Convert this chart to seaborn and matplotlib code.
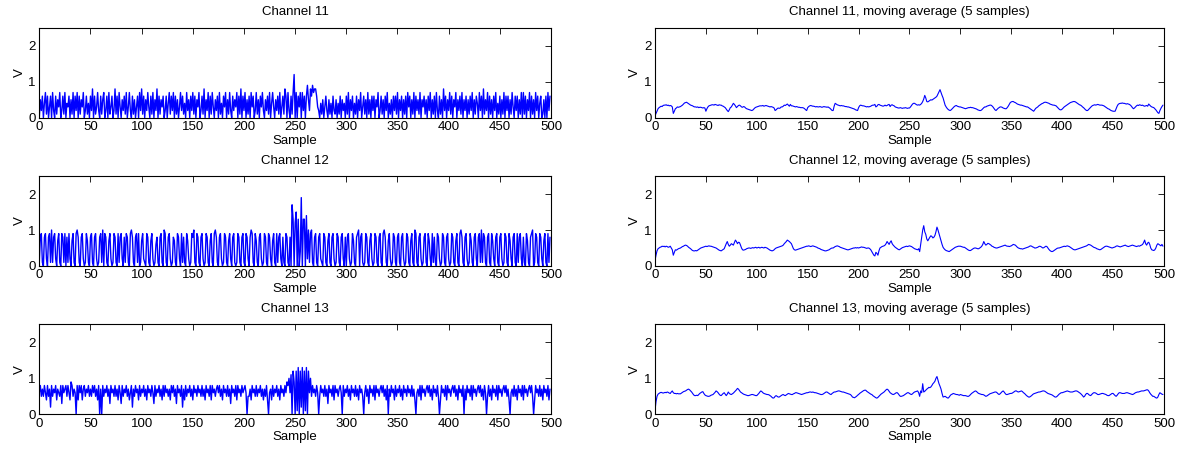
import numpy as np
import pandas as pd
import matplotlib
matplotlib.use("Agg")
import matplotlib.pyplot as plt
import seaborn as sns

sns.set_style("white")
plt.rcParams['font.family'] = ['Liberation Sans', 'DejaVu Sans']
plt.rcParams['text.color'] = 'black'
plt.rcParams['axes.labelcolor'] = 'black'

# raw samples, one character per sample, tenths of a volt (a=1.0, b=1.1, ... j=1.9)
ch11_raw = ("05260 47160 36072 06153 70261 70436 05170 62706 15370 26140"
            "62806 13720 61570 26071 36028 16073 05261 70372 06150 36072"
            "81605 27306 17052 80615 36026 04716 27061 50372 61407 25062"
            "71605 37026 18052 70617 30526 07140 63705 17206 25370 61806"
            "27051 60736 02715 06372 05261 70473 05261 70361 86072 0617c"
            "07063 70726 06952 86978 86320 41503 62051 40621 50416 05240"
            "61705 26041 60527 03615 07150 62605 37026 15062 70415 06261"
            "70526 05160 73605 17062 51705 36150 62705 16072 06150 82605"
            "27160 53705 26170 52605 16270 51640 72608 15270 61506 27041"
            "60517 06260 51730 62605 17071 60527 06150 72604 60150 60726")

ch12_raw = ("18910 89208 91a18 92079 10981 90819 20791 09a81 08920 19710"
            "89108 92018 91a09 81079 20198 10918 92081 98109 a8108 91901"
            "79210 98107 92016 81089 10a91 08920 18710 98209 18109 72019"
            "8a109 81089 20198 10791 09a81 08920 19810 79208 91019 81089"
            "10982 08a91 09710 89201 98109 82079 10918 92081 09810 80hd0"
            "cf0d0 4j0dd 0e2a1 9a108 91089 21098 10791 08920 19810 89208"
            "08920 19710 89a08 91019 81079 20198 10891 09a81 07920 19810"
            "89108 92019 81079 10a91 08920 18910 97209 18109 82019 81089"
            "20198 10791 09a81 08920 19710 89208 91a19 81089 10972 08910"
            "89201 98109 72089 10918 92081 09710 89a01 98109 82079 10918")

ch13_raw = ("68575 86485 72857 68476 58386 78586 49857 60848 68478 57685"
            "75868 57480 70857 68573 86758 57486 38576 85746 82758 67485"
            "76857 48675 86385 76857 48586 75748 68573 86758 27485 76857"
            "48675 86758 57486 75848 67578 68574 86758 57386 75848 67586"
            "78605 57486 75857 68574 75840 67485 76857 48675 8698a 6b0c9"
            "0c1d0 c2d0c 1d0c6 a5867 58605 86758 57386 75848 67578 60857"
            "68574 86758 57486 75068 57386 75848 67578 68574 80758 67485"
            "76857 48675 86758 57406 75848 67578 68574 86758 50486 75848"
            "67578 68574 86758 07486 75848 67578 68574 86058 57486 75848"
            "67578 68574 06758 57486 75848 67578 68504 86758 57486 75847")

# moving averages as plotted, hundredths of a volt
ch11_ma = """
05 12 18 25 28 30 32 31 34 35 35 36 34 35 33 34 33 30 12 18 25 27 30 29 30
31 33 35 38 41 42 43 41 39 37 35 34 33 31 30 30 29 30 28 29 29 28 27 28 27
18 25 30 33 34 35 36 36 35 37 36 35 34 36 35 35 33 32 30 28 24 20 17 22 28
30 35 40 37 33 28 31 34 35 33 30 29 31 30 27 25 24 23 22 21 20 21 24 27 29
30 31 32 33 33 33 34 32 33 34 33 32 31 30 31 30 29 27 20 22 25 27 26 27 30
30 32 35 34 36 38 35 32 37 33 33 32 31 30 31 30 29 29 28 28 28 27 25 22 20
28 31 33 34 33 32 32 31 30 31 30 30 31 30 29 30 31 30 30 29 30 28 26 23 20
20 32 40 38 36 35 34 33 34 33 33 32 31 31 30 30 29 28 27 26 25 24 22 21 20
28 33 35 34 33 33 32 31 30 31 30 31 32 34 35 35 37 30 32 36 37 35 34 33 32
33 35 33 34 36 37 31 35 36 34 33 30 29 28 27 27 28 27 26 27 27 28 27 26 27
27 30 34 38 40 40 38 36 35 36 35 37 40 45 52 62 55 45 44 46 48 50 49 51 53
55 57 60 66 72 78 70 62 55 45 35 30 26 23 21 20 22 25 28 31 33 34 32 31 30
30 29 28 27 26 25 26 27 28 28 29 28 28 27 26 25 24 22 21 20 20 22 25 28 30
30 32 33 34 35 35 33 30 26 22 20 23 26 28 30 30 29 27 26 25 25 28 32 37 42
44 45 45 43 42 40 38 37 36 35 35 34 33 32 31 30 30 28 26 24 22 20 18 22 26
28 30 33 35 37 39 40 42 43 43 42 41 40 38 37 36 35 35 34 33 30 27 24 22 22
24 27 30 32 34 36 38 40 42 43 44 45 45 44 42 40 38 36 35 33 30 28 25 22 20
20 23 26 29 32 34 35 36 35 36 37 36 35 35 35 34 33 31 29 27 25 24 22 20 19
18 18 18 25 32 37 39 40 40 41 40 40 39 38 39 38 37 35 32 28 25 27 30 33 35
34 36 35 34 35 33 32 33 34 32 38 35 32 30 29 28 25 22 18 14 12 20 26 31 35
"""

ch12_ma = """
15 30 42 48 50 52 53 55 54 55 53 55 54 52 53 55 50 45 30 38 45 44 46 48 49
50 52 54 55 57 58 57 55 52 50 48 45 43 42 42 43 42 44 46 48 50 51 52 53 54
55 54 55 56 55 55 54 53 52 51 50 48 46 44 43 42 44 46 48 55 62 68 60 55 58
62 60 58 65 72 68 62 66 65 58 50 45 44 45 46 48 49 50 50 49 50 51 50 51 52
50 51 52 50 51 52 51 50 52 51 50 48 46 44 43 42 43 45 48 50 51 52 53 54 55
56 58 62 65 68 72 70 68 65 62 55 48 45 44 45 46 47 48 49 50 51 52 53 54 55
55 56 55 54 55 56 55 54 53 52 50 49 48 46 45 44 43 42 42 43 44 45 47 49 50
50 52 54 55 56 55 54 52 51 50 49 48 47 46 45 45 46 47 48 49 50 50 51 50 51
50 51 52 53 52 52 51 50 49 50 50 48 45 40 35 30 28 38 35 30 42 50 52 54 55
56 58 62 68 64 60 66 70 62 58 55 52 50 48 46 45 47 49 51 52 53 54 55 54 55
56 55 54 52 50 48 47 46 45 48 40 60 80 100 112 95 88 75 70 75 80 84 82 78 80
85 95 108 100 90 80 70 60 52 48 45 43 42 41 40 42 44 46 48 50 52 53 54 55 55
55 54 53 52 52 50 48 46 44 43 43 45 47 49 50 50 49 48 48 50 52 55 60 68 62
58 60 63 62 60 58 55 54 52 51 50 50 51 52 53 54 55 56 57 58 56 55 55 54 55
56 58 60 59 58 55 52 50 49 48 48 47 48 49 50 51 52 53 55 56 55 53 52 50 50
51 52 54 55 54 52 50 51 53 55 54 50 46 43 41 40 41 43 45 47 49 50 50 51 52
53 54 55 54 55 56 55 54 52 50 48 46 45 45 46 47 48 49 50 51 52 53 54 55 56
58 60 59 58 56 54 52 51 50 48 47 46 45 46 48 50 52 54 55 55 54 53 52 51 50
51 52 53 55 56 55 54 53 54 55 56 57 58 56 55 54 55 56 57 58 57 56 55 54 55
56 55 57 58 60 65 72 62 58 64 66 60 50 45 44 43 45 50 58 62 60 58 56 60 55
"""

ch13_ma = """
10 35 50 56 58 60 61 60 59 60 61 60 62 61 59 58 62 65 60 58 58 57 58 57 57
57 59 61 63 64 65 67 69 70 68 65 62 58 54 52 52 53 52 55 58 60 62 63 58 54
52 51 50 50 51 53 54 55 58 61 65 63 60 56 53 52 55 58 60 56 52 56 62 58 56
55 57 59 62 65 68 72 70 66 62 60 58 56 55 54 53 52 52 53 54 55 55 54 53 52
52 55 58 62 65 63 60 58 57 56 55 55 54 52 50 47 45 46 50 52 50 48 48 50 52
54 55 53 52 54 56 58 57 56 55 55 57 58 60 60 59 58 57 56 55 56 57 58 59 60
60 61 62 62 61 62 61 60 60 59 58 57 56 55 55 56 58 60 62 62 60 58 56 55 58
60 62 62 63 64 65 65 64 63 62 62 61 60 59 58 57 56 55 52 48 47 46 48 50 53
55 58 60 62 64 66 67 67 64 62 60 58 56 55 52 50 48 46 45 47 50 53 56 58 60
62 65 68 70 68 64 60 58 56 55 56 58 60 60 57 53 50 50 51 52 54 56 58 60 60
58 56 55 57 60 62 63 64 65 60 50 65 60 85 62 64 67 70 72 75 74 76 80 85 88
92 100 105 95 85 78 70 58 48 49 50 48 46 45 48 52 55 56 58 57 56 55 55 54 53
55 54 53 52 52 52 51 50 50 52 55 58 60 62 64 65 63 60 58 57 56 55 55 54 52
50 51 53 55 57 58 59 60 61 62 62 60 57 55 57 60 63 65 62 58 55 55 56 57 58
58 59 61 63 65 65 63 62 63 64 65 63 60 58 55 52 50 48 48 50 52 55 57 58 59
60 61 62 62 63 64 65 65 64 62 60 58 57 56 55 54 52 50 48 48 50 53 56 58 60
60 61 62 63 64 65 64 63 62 62 62 63 64 65 65 64 62 60 58 55 52 48 50 55 58
58 55 53 52 55 58 60 60 59 57 55 55 56 57 58 58 57 56 55 53 52 52 54 56 58
58 55 52 50 53 57 60 60 59 58 58 58 59 60 60 59 58 57 56 55 56 58 60 61 62
62 63 64 65 65 65 66 67 68 68 65 60 56 53 50 50 48 46 45 48 55 60 58 56 55
"""

titles = ["Channel 11", "Channel 11, moving average (5 samples)",
          "Channel 12", "Channel 12, moving average (5 samples)",
          "Channel 13", "Channel 13, moving average (5 samples)"]


def decode_raw(s):
    s = s.replace(" ", "")
    return np.array([int(c, 36) for c in s]) / 10


def decode_ma(s):
    return np.array(s.split(), dtype=float) / 100


series = [decode_raw(ch11_raw), decode_ma(ch11_ma),
          decode_raw(ch12_raw), decode_ma(ch12_ma),
          decode_raw(ch13_raw), decode_ma(ch13_ma)]

fig = plt.figure(figsize=(11.87, 4.54), dpi=100)

lefts = [0.0331, 0.5518]
widths = [0.4311, 0.4288]
bottoms = [0.7407, 0.4141, 0.0874]
h = 0.1982
fs = 9.5

for i, (y, title) in enumerate(zip(series, titles)):
    row, col = divmod(i, 2)
    ax = fig.add_axes([lefts[col], bottoms[row], widths[col], h])
    df = pd.DataFrame({"Sample": np.arange(len(y)), "V": y})
    sns.lineplot(data=df, x="Sample", y="V", ax=ax, color="blue",
                 linewidth=1.0 if col == 0 else 0.8)
    ax.set_xlim(0, 500)
    ax.set_ylim(0, 2.5)
    ax.set_xticks(range(0, 501, 50))
    ax.set_yticks([0, 1, 2])
    ax.tick_params(direction="in", top=True, right=True, length=4,
                   width=0.6, labelsize=fs, pad=2.5, colors="black")
    for sp in ax.spines.values():
        sp.set_color("black")
        sp.set_linewidth(0.8)
    ax.set_title(title, fontsize=fs, pad=9, color="black")
    ax.set_xlabel("Sample", fontsize=fs, labelpad=1)
    ax.set_ylabel("V", fontsize=fs, labelpad=2)

fig.savefig("out.png", dpi=100)
